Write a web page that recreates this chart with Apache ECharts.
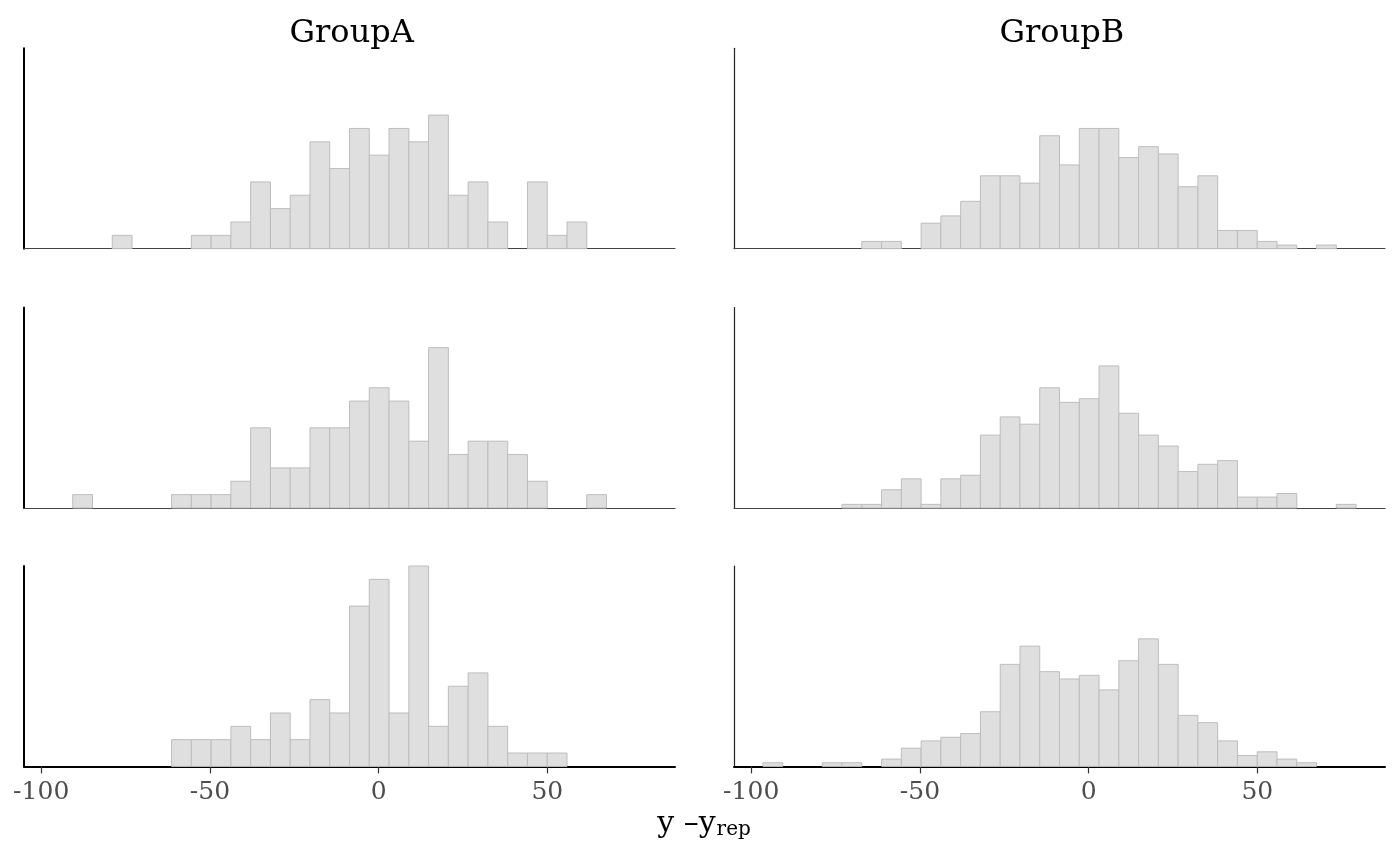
<!DOCTYPE html>
<html lang="en">
<head>
  <meta charset="UTF-8">
  <meta name="viewport" content="width=device-width, initial-scale=1.0" />
  <title>y - y_rep by group</title>
</head>
<body style="margin:0; background-color:#ffffff;">
<div id="main" style="width:1400px; height:866px;"></div>

<script src="https://cdn.jsdelivr.net/npm/echarts@6/dist/echarts.min.js"></script>

<script>
  // histogram bins (shared by every panel)
  var binStart = -96.52;
  var binWidth = 5.86;
  var binCount = 30;

  var groups = ['GroupA', 'GroupB'];
  var xMin = -105.1;
  var xMax = 87.85;
  var tickValues = [-100, -50, 0, 50];

  // counts per bin (3 replicates per group)
  var countsA1 = [0,0,0,1,0,0,0,1,1,2,5,3,4,8,6,9,7,9,8,10,4,5,2,0,5,1,2,0,0,0];
  var countsA2 = [0,1,0,0,0,0,1,1,1,2,6,3,3,6,6,8,9,8,5,12,4,5,5,4,2,0,0,1,0,0];
  var countsA3 = [0,0,0,0,0,0,2,2,2,3,2,4,2,5,4,12,14,4,15,3,6,7,3,1,1,1,0,0,0,0];
  var countsB1 = [0,0,0,0,0,2,2,0,7,9,13,20,20,18,31,23,33,33,25,28,26,17,20,5,5,2,1,0,1,0];
  var countsB2 = [0,0,0,0,1,1,5,8,1,8,9,20,25,23,33,29,30,39,26,20,17,10,12,13,3,3,4,0,0,1];
  var countsB3 = [1,0,0,1,1,0,2,5,7,8,9,15,28,33,26,24,25,21,29,35,28,14,12,7,3,4,2,1,0,0];

  var panels = [
    { col: 0, row: 0, counts: countsA1 },
    { col: 1, row: 0, counts: countsB1 },
    { col: 0, row: 1, counts: countsA2 },
    { col: 1, row: 1, counts: countsB2 },
    { col: 0, row: 2, counts: countsA3 },
    { col: 1, row: 2, counts: countsB3 }
  ];

  var colLeft = [24, 734];
  var colWidth = 651;
  var rowTop = [48.3, 307.6, 566];
  var rowHeight = 200.4;
  var serif = '"DejaVu Serif", serif';

  // turn counts into densities (ggplot ..density..)
  var yMax = 0;
  panels.forEach(function (p) {
    var n = p.counts.reduce(function (a, b) { return a + b; }, 0);
    p.data = [];
    for (var i = 0; i < binCount; i++) {
      if (!p.counts[i]) continue;
      var lo = binStart + i * binWidth;
      var d = p.counts[i] / (n * binWidth);
      p.data.push([lo, lo + binWidth, d]);
      if (d > yMax) yMax = d;
    }
  });

  function renderBin(params, api) {
    var p0 = api.coord([api.value(0), api.value(2)]);
    var p1 = api.coord([api.value(1), 0]);
    return {
      type: 'rect',
      shape: { x: p0[0], y: p0[1], width: p1[0] - p0[0], height: p1[1] - p0[1] },
      style: { fill: '#dfdfdf', stroke: '#bdbdbd', lineWidth: 1 }
    };
  }

  var grid = [], xAxis = [], yAxis = [], series = [];
  panels.forEach(function (p, k) {
    var bottomRow = p.row === 2;
    grid.push({ left: colLeft[p.col], top: rowTop[p.row], width: colWidth, height: rowHeight });
    xAxis.push({
      type: 'value', gridIndex: k, min: xMin, max: xMax,
      splitLine: { show: false },
      axisLine: { show: true, onZero: false, lineStyle: { color: bottomRow ? '#000' : '#444', width: bottomRow ? 2 : 1.2 } },
      axisTick: { show: bottomRow, length: 7, customValues: tickValues, lineStyle: { color: '#333', width: 1.2 } },
      axisLabel: { show: bottomRow, customValues: tickValues, margin: 14, color: '#4d4d4d', fontSize: 25, fontFamily: serif }
    });
    yAxis.push({
      type: 'value', gridIndex: k, min: 0, max: yMax,
      splitLine: { show: false },
      axisLine: { show: true, onZero: false, lineStyle: { color: p.col === 0 ? '#000' : '#222', width: p.col === 0 ? 2 : 1.2 } },
      axisTick: { show: false },
      axisLabel: { show: false }
    });
    series.push({
      type: 'custom', xAxisIndex: k, yAxisIndex: k,
      renderItem: renderBin, data: p.data, silent: true
    });
  });

  var graphic = groups.map(function (g, c) {
    return {
      type: 'text', left: colLeft[c] + colWidth / 2 - 60, top: 18,
      style: { text: g, fill: '#000', font: '32px ' + serif, width: 120, align: 'center' }
    };
  });
  graphic.push({
    type: 'text', x: 704, y: 824,
    style: {
      text: '{m|y –y}{s|rep}', align: 'center', verticalAlign: 'middle',
      rich: {
        m: { fontSize: 30, fontFamily: serif, fill: '#000', color: '#000' },
        s: { fontSize: 20, fontFamily: serif, fill: '#000', color: '#000', verticalAlign: 'bottom', padding: [12, 0, 0, 1] }
      }
    }
  });

  var myChart = echarts.init(document.getElementById('main'));
  myChart.setOption({
    backgroundColor: '#ffffff',
    animation: false,
    grid: grid,
    xAxis: xAxis,
    yAxis: yAxis,
    series: series,
    graphic: graphic
  });
</script>
</body>
</html>
